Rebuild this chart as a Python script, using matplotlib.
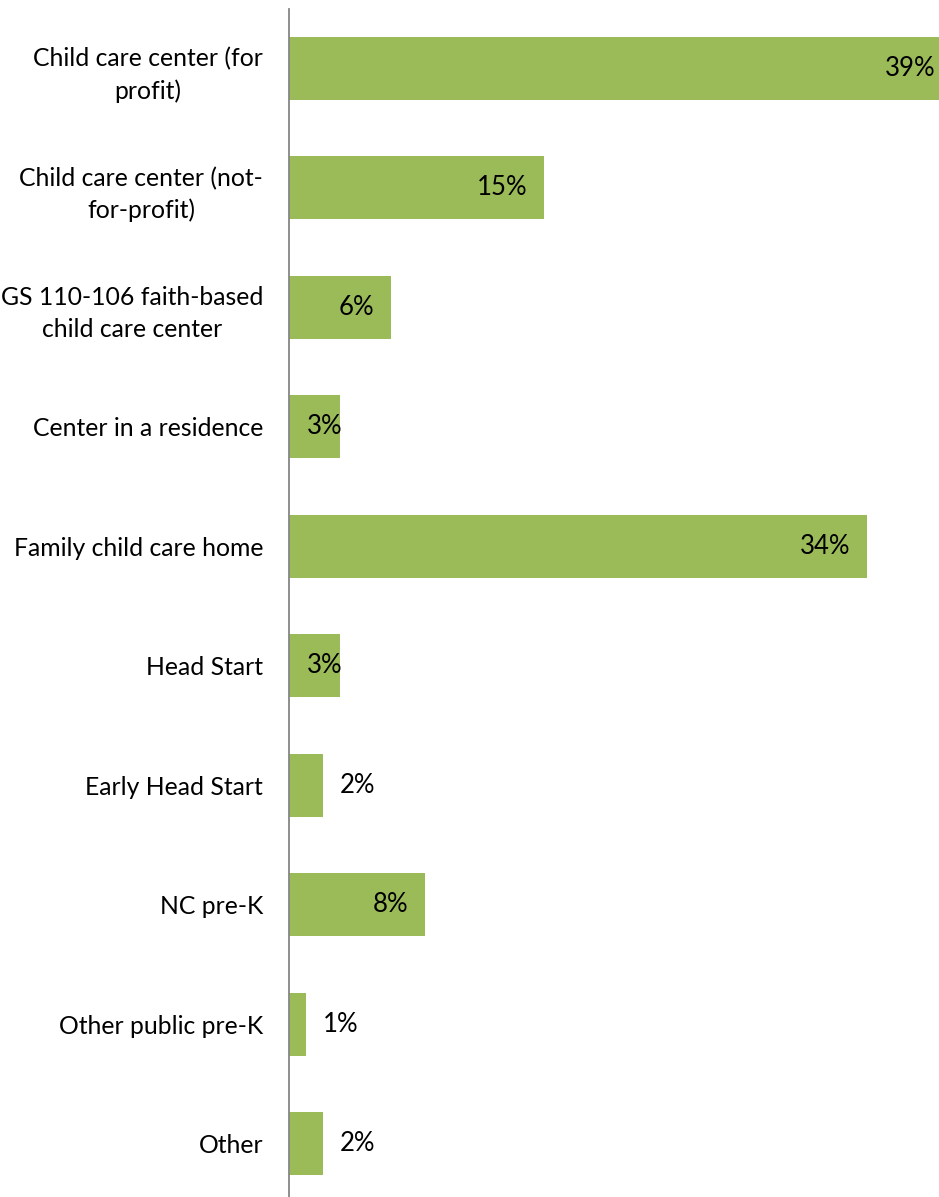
import matplotlib
matplotlib.use("Agg")
import matplotlib.pyplot as plt

# Type of child care setting and share of respondents
categories = [
    "Child care center (for\nprofit)",
    "Child care center (not-\nfor-profit)",
    "GS 110-106 faith-based\nchild care center",
    "Center in a residence",
    "Family child care home",
    "Head Start",
    "Early Head Start",
    "NC pre-K",
    "Other public pre-K",
    "Other",
]
values = [39, 15, 6, 3, 34, 3, 2, 8, 1, 2]
value_labels = [f"{v}%" for v in values]

BAR_COLOR = "#9BBB59"
AXIS_COLOR = "#868686"
TEXT_COLOR = "#000000"

plt.rcParams["font.family"] = ["Lato", "DejaVu Sans"]

W, H = 939, 1197
fig = plt.figure(figsize=(W / 100, H / 100), dpi=100)
ax = fig.add_axes([289 / W, -6.2 / H, 650 / W, 1194.4 / H])

ypos = list(range(len(categories)))
ax.barh(ypos, values, height=0.527, color=BAR_COLOR)
ax.set_ylim(len(categories) - 0.5, -0.5)
ax.set_xlim(0, 650 / 17.0)

ax.set_yticks(ypos)
ax.set_yticklabels(categories, fontsize=17.8, color=TEXT_COLOR)
for t in ax.get_yticklabels():
    t.set_multialignment("center")
    t.set_linespacing(1.45)
ax.tick_params(axis="y", length=0, pad=18.7)
ax.set_xticks([])

for side in ("top", "right", "bottom"):
    ax.spines[side].set_visible(False)
ax.spines["left"].set_color(AXIS_COLOR)
ax.spines["left"].set_linewidth(1.3)

# Value labels: inside the bar end for long bars, outside for short ones
for i, (v, lab) in enumerate(zip(values, value_labels)):
    if v >= 4:
        xy, dx, ha = (v, i), -17, "right"
    elif v >= 3:
        xy, dx, ha = (0, i), 18, "left"
    else:
        xy, dx, ha = (v, i), 17, "left"
    ax.annotate(lab, xy=xy, xytext=(dx, 0), textcoords="offset pixels",
                ha=ha, va="center", fontsize=18.5, color=TEXT_COLOR,
                annotation_clip=False)

fig.savefig("out.png", dpi=100, facecolor="white")
